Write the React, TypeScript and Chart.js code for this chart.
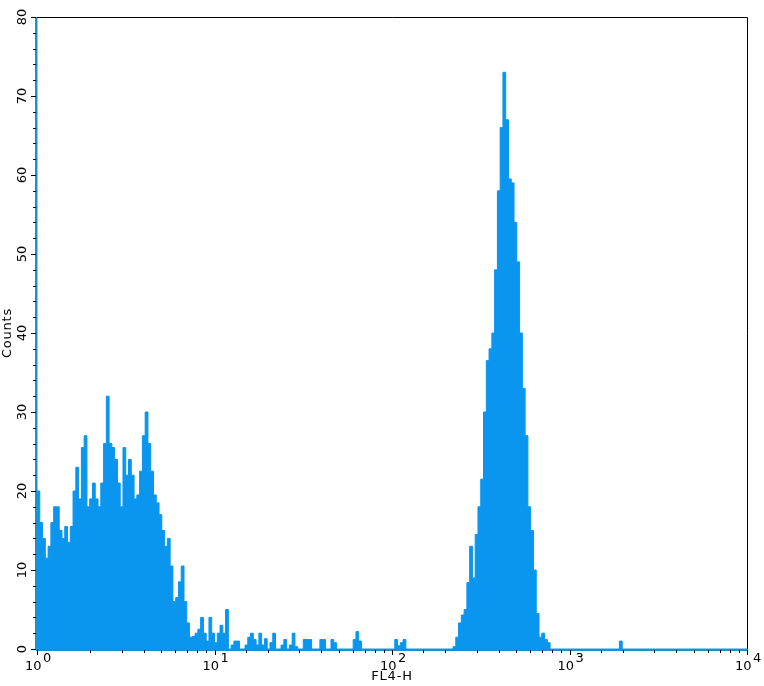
import React, { useEffect, useRef } from "react";
import { Chart, registerables } from "chart.js";

Chart.register(...registerables);

// Histogram: 256 log-spaced channels spanning 4 decades (10^0 .. 10^4)
const DECADES = 4;
const CHANNELS = 256;

// counts per channel
const channelCounts: number[] = [
  100, 20, 16, 14, 11.5, 13, 16, 18, 18, 15, 14, 15.5, 13.5, 15.5, 20, 23,
  19, 25.5, 27, 18, 19, 21, 19, 18, 21, 26, 32, 26, 25.5, 24, 21, 18,
  25.5, 22, 24, 22, 19, 19.5, 22.5, 27, 30, 26, 22.5, 19.5, 18.5, 17, 15, 13,
  14, 10.5, 6, 6.5, 8.5, 10.5, 6, 3.3, 1.5, 1.6, 2, 2.5, 4, 2, 1, 4,
  2, 0.8, 2, 3, 2, 5, 0, 0.5, 1, 1, 0, 0, 0.5, 1.5, 2, 1.2,
  0.5, 2, 0.5, 1.3, 0, 0.8, 2, 0, 0, 0.5, 1.2, 0, 0.5, 2, 0.3, 0,
  0, 1.2, 1.2, 1.2, 0, 0, 0, 1.2, 1.2, 0, 0, 1.2, 0.8, 0, 0, 0,
  0, 0, 0, 1.2, 2.2, 1, 0, 0, 0, 0, 0, 0, 0, 0, 0, 0,
  0, 0, 1.2, 0.4, 0.8, 1.2, 0, 0, 0, 0, 0, 0, 0, 0, 0, 0,
  0, 0, 0, 0, 0, 0, 0, 0.3, 1.5, 3.3, 4.3, 5, 8.4, 13, 9, 14.5,
  18, 21.5, 30, 36.5, 38, 40, 48, 58, 66, 73, 67, 59.5, 59, 54, 49, 40,
  33, 27, 18, 15, 10, 4.5, 1.5, 2, 1.2, 0.8, 0, 0, 0, 0, 0, 0,
  0, 0, 0, 0, 0, 0, 0, 0, 0, 0, 0, 0, 0, 0, 0, 0,
  0, 0, 0, 1, 0, 0, 0, 0, 0, 0, 0, 0, 0, 0, 0, 0,
  0, 0, 0, 0, 0, 0, 0, 0, 0, 0, 0, 0, 0, 0, 0, 0,
  0, 0, 0, 0, 0, 0, 0, 0, 0, 0, 0, 0, 0, 0, 0, 0,
];

const yTickLabels = ["0", "10", "20", "30", "40", "50", "60", "70", "80"];
const xTickExponents = ["0", "1", "2", "3", "4"];
const xTitle = "FL4-H";
const yTitle = "Counts";

const FILL = "#0a96ee";
const AXIS_COLOR = "#1f8fc8";
const FONT = '13px "DejaVu Sans", Verdana, sans-serif';
const TITLE_FONT = '13px "DejaVu Sans", Verdana, sans-serif';

const axesPlugin = {
  id: "fcsAxes",
  afterDraw(chart: any) {
    const { ctx, chartArea: a } = chart;
    const x = chart.scales.x;
    const y = chart.scales.y;
    ctx.save();
    // top/right frame
    ctx.strokeStyle = "#000";
    ctx.lineWidth = 1;
    ctx.beginPath();
    ctx.moveTo(a.left, a.top + 0.5);
    ctx.lineTo(a.right + 0.5, a.top + 0.5);
    ctx.lineTo(a.right + 0.5, a.bottom);
    ctx.stroke();
    // axis lines
    ctx.strokeStyle = AXIS_COLOR;
    ctx.lineWidth = 2;
    ctx.beginPath();
    ctx.moveTo(a.left - 1, a.bottom + 1);
    ctx.lineTo(a.right + 1, a.bottom + 1);
    ctx.moveTo(a.left - 1, a.top);
    ctx.lineTo(a.left - 1, a.bottom + 1);
    ctx.stroke();
    // tick marks
    ctx.strokeStyle = "#000";
    ctx.lineWidth = 1;
    ctx.beginPath();
    y.ticks.forEach((t: any) => {
      const py = Math.round(y.getPixelForValue(t.value)) + 0.5;
      const major = t.value % 10 === 0;
      ctx.moveTo(a.left - (major ? 6 : 4), py);
      ctx.lineTo(a.left - 1, py);
    });
    x.ticks.forEach((t: any) => {
      const e = Math.log10(t.value);
      const major = Math.abs(e - Math.round(e)) < 1e-9;
      const px = Math.round(x.getPixelForValue(t.value)) + 0.5;
      ctx.moveTo(px, a.bottom + 1);
      ctx.lineTo(px, a.bottom + (major ? 6 : 4));
    });
    ctx.stroke();
    // y labels (rotated)
    ctx.fillStyle = "#000";
    ctx.font = FONT;
    ctx.textAlign = "center";
    ctx.textBaseline = "middle";
    yTickLabels.forEach((lab) => {
      const py = y.getPixelForValue(Number(lab));
      ctx.save();
      ctx.translate(23, py);
      ctx.rotate(-Math.PI / 2);
      ctx.fillText(lab, 0, 0);
      ctx.restore();
    });
    // x labels 10^n
    ctx.textAlign = "left";
    ctx.textBaseline = "alphabetic";
    xTickExponents.forEach((ex) => {
      const px = x.getPixelForValue(Math.pow(10, Number(ex)));
      ctx.fillText("10", px - 12, 670);
      ctx.fillText(ex, px + 6, 662);
    });
    // titles
    ctx.font = TITLE_FONT;
    (ctx as any).letterSpacing = "0.8px";
    ctx.textAlign = "center";
    ctx.textBaseline = "middle";
    ctx.fillText(xTitle, (a.left + a.right) / 2, 677);
    ctx.save();
    ctx.translate(8, (a.top + a.bottom) / 2);
    ctx.rotate(-Math.PI / 2);
    ctx.fillText(yTitle, 0, 0);
    ctx.restore();
    (ctx as any).letterSpacing = "0px";
    ctx.restore();
  },
};

export default function App() {
  const ref = useRef<HTMLCanvasElement | null>(null);
  useEffect(() => {
    if (!ref.current) return;
    const points = channelCounts.map((c, i) => ({
      x: Math.pow(10, (i * DECADES) / CHANNELS),
      y: c,
    }));
    points.push({ x: Math.pow(10, DECADES), y: 0 });
    const chart = new Chart(ref.current, {
      type: "line",
      data: {
        datasets: [
          {
            data: points,
            stepped: "after",
            fill: "origin",
            backgroundColor: FILL,
            borderColor: FILL,
            borderWidth: 1,
            pointRadius: 0,
            clip: 0,
          } as any,
        ],
      },
      options: {
        responsive: false,
        animation: false,
        events: [],
        layout: { padding: { top: 17, right: 17, left: 0, bottom: 0 } },
        plugins: { legend: { display: false }, tooltip: { enabled: false } },
        scales: {
          x: {
            type: "logarithmic",
            min: 1,
            max: Math.pow(10, DECADES),
            ticks: { display: false },
            grid: { display: false },
            border: { display: false },
            afterFit: (s: any) => {
              s.height = 37;
            },
          },
          y: {
            type: "linear",
            min: 0,
            max: 80,
            ticks: { display: false, stepSize: 2 },
            grid: { display: false },
            border: { display: false },
            afterFit: (s: any) => {
              s.width = 37;
            },
          },
        },
      } as any,
      plugins: [axesPlugin],
    });
    return () => chart.destroy();
  }, []);
  return (
    <div style={{ position: "absolute", left: 0, top: 0, width: 764, height: 686, background: "#fff" }}>
      <canvas ref={ref} width={764} height={686} style={{ display: "block" }} />
    </div>
  );
}
